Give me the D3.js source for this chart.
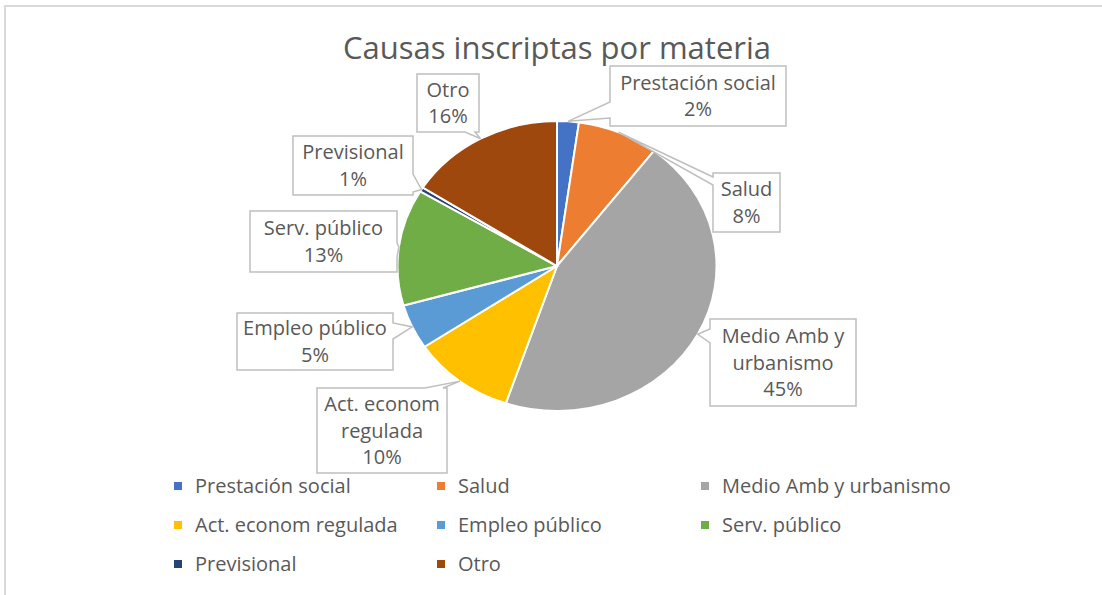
<!DOCTYPE html>
<html>
<head>
<meta charset="utf-8">
<script src="https://cdn.jsdelivr.net/npm/d3@7"></script>
<style>
  body { margin: 0; background: #fff; }
  text { font-family: "Open Sans", sans-serif; fill: #595959; }
</style>
</head>
<body>
<svg id="root"></svg>
<script>
const width = 1102, height = 595;

// data
const categories = ["Prestación social", "Salud", "Medio Amb y urbanismo", "Act. econom regulada",
  "Empleo público", "Serv. público", "Previsional", "Otro"];
const shares = [2.2, 8.2, 44.8, 10.4, 5.0, 13.0, 0.5, 15.9];
const colors = ["#4472C4", "#ED7D31", "#A5A5A5", "#FFC000", "#5B9BD5", "#70AD47", "#264478", "#9E480E"];
// label text lines as shown in the callouts
const labelLines = [["Prestación social"], ["Salud"], ["Medio Amb y", "urbanismo"], ["Act. econom", "regulada"],
  ["Empleo público"], ["Serv. público"], ["Previsional"], ["Otro"]];

// callout layout: box x, y, w, h, side the pointer leaves from, pointer base offsets
const callouts = [
  { x: 610, y: 66, w: 176, h: 60, side: "left", s0: 36, s1: 52 },
  { x: 713, y: 173, w: 67, h: 59, side: "left", s0: 4, s1: 12 },
  { x: 710, y: 319, w: 146, h: 87, side: "left", s0: 10, s1: 24 },
  { x: 317, y: 388, w: 130, h: 85, side: "top", s0: 108, s1: 126 },
  { x: 237, y: 313, w: 156, h: 57, side: "right", s0: 10, s1: 26 },
  { x: 250, y: 211, w: 147, h: 61, side: "right", s0: 32, s1: 46 },
  { x: 293, y: 136, w: 120, h: 59, side: "right", s0: 38, s1: 56 },
  { x: 417, y: 74, w: 62, h: 58, side: "bottom", s0: 48, s1: 58 }
];

const svg = d3.select("#root").attr("width", width).attr("height", height);

// chart frame
svg.append("rect")
  .attr("x", 5).attr("y", 6)
  .attr("width", 1110).attr("height", 600)
  .attr("fill", "#fff")
  .attr("stroke", "#d9d9d9")
  .attr("stroke-width", 2);

// title
svg.append("text")
  .attr("x", 557).attr("y", 59)
  .attr("text-anchor", "middle")
  .style("font-size", "31px")
  .text("Causas inscriptas por materia");

// pie (slightly wider than tall like the original)
const cx = 557, cy = 266, r = 145, sx = 1.1;
const pie = d3.pie().sort(null).value(d => d);
const arcs = pie(shares);
const arc = d3.arc().innerRadius(0).outerRadius(r);

const g = svg.append("g")
  .attr("transform", `translate(${cx},${cy}) scale(${sx},1)`);

g.selectAll("path")
  .data(arcs)
  .join("path")
  .attr("d", arc)
  .attr("fill", (d, i) => colors[i])
  .attr("stroke", "#fff")
  .attr("stroke-width", 2)
  .attr("vector-effect", "non-scaling-stroke");

// callout shape: box with a pointer wedge to the slice
function calloutPath(c, tip) {
  const { x, y, w, h, side, s0, s1 } = c;
  let pts;
  if (side == "top")
    pts = [[x, y], [x + s0, y], tip, [x + s1, y], [x + w, y], [x + w, y + h], [x, y + h]];
  else if (side == "right")
    pts = [[x, y], [x + w, y], [x + w, y + s0], tip, [x + w, y + s1], [x + w, y + h], [x, y + h]];
  else if (side == "bottom")
    pts = [[x, y], [x + w, y], [x + w, y + h], [x + s1, y + h], tip, [x + s0, y + h], [x, y + h]];
  else
    pts = [[x, y], [x + w, y], [x + w, y + h], [x, y + h], [x, y + s1], tip, [x, y + s0]];
  return "M" + pts.map(p => p.join(",")).join("L") + "Z";
}

const labels = svg.append("g");
arcs.forEach((d, i) => {
  const a = (d.startAngle + d.endAngle) / 2;
  const tip = [cx + sx * r * Math.sin(a), cy - r * Math.cos(a)];
  const c = callouts[i];
  labels.append("path")
    .attr("d", calloutPath(c, tip))
    .attr("fill", "#fff")
    .attr("stroke", "#bfbfbf")
    .attr("stroke-width", 1.5);
  const lines = labelLines[i].concat([Math.round(shares[i]) + "%"]);
  const lh = 26.5;
  const y0 = c.y + c.h / 2 - (lines.length - 1) * lh / 2;
  const t = labels.append("text")
    .attr("text-anchor", "middle")
    .style("font-size", "20px");
  lines.forEach((s, k) => {
    t.append("tspan")
      .attr("x", c.x + c.w / 2)
      .attr("y", y0 + k * lh)
      .attr("dy", "0.35em")
      .text(s);
  });
});

// legend, three columns
const colX = [174, 437, 701], rowY = [486, 525, 564];
const legend = svg.append("g");
categories.forEach((name, i) => {
  const lx = colX[i % 3], ly = rowY[Math.floor(i / 3)];
  legend.append("rect")
    .attr("x", lx).attr("y", ly - 4)
    .attr("width", 8).attr("height", 8)
    .attr("fill", colors[i]);
  legend.append("text")
    .attr("x", lx + 21).attr("y", ly)
    .attr("dy", "0.35em")
    .style("font-size", "20px")
    .text(name);
});
</script>
</body>
</html>
